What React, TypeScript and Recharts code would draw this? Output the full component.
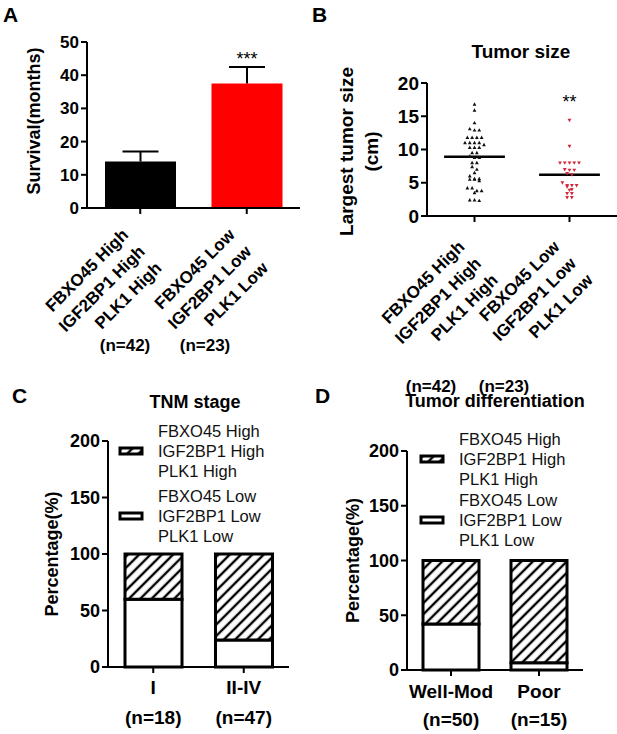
import React from "react";
import {
  BarChart,
  Bar,
  XAxis,
  YAxis,
  Cell,
  LabelList,
  ScatterChart,
  Scatter,
  ReferenceLine,
  ReferenceDot,
  Legend,
} from "recharts";

const FONT = "'Liberation Sans', Arial, Helvetica, sans-serif";
const INK = "#000";

// ---- data ----
const groupLabels = [
  ["FBXO45 High", "IGF2BP1 High", "PLK1 High"],
  ["FBXO45 Low", "IGF2BP1 Low", "PLK1 Low"],
];
const groupCounts = ["(n=42)", "(n=23)"];

// A: survival
const survivalTicks = [0, 10, 20, 30, 40, 50];
const survivalMean = [14, 37.5];
const survivalSem = [3, 5];
const survivalColors = ["#000000", "#ff0000"];
const survivalStars = ["", "***"];

// B: tumor size
const sizeTicks = [0, 5, 10, 15, 20];
const sizeHigh = [
  16.8, 15.9, 14.0, 12.9, 13.1, 12.9, 11.8, 11.8, 11.8, 11.8, 11.0, 11.0, 11.0,
  11.0, 10.7, 10.3, 10.3, 10.3, 9.5, 9.5, 9.0, 8.8, 8.8, 8.0, 8.0, 7.4, 7.0,
  6.5, 6.0, 5.6, 5.6, 5.5, 5.5, 5.3, 4.2, 4.2, 3.8, 3.8, 3.5, 2.4, 2.3, 2.4,
];
const sizeLow = [
  14.4, 10.5, 8.0, 8.0, 8.0, 8.0, 8.0, 7.0, 6.9, 6.9, 6.4, 6.2, 5.0, 4.6, 4.6,
  4.6, 4.4, 4.0, 3.9, 3.4, 3.4, 2.8, 2.8,
];
const sizeMeans = [8.9, 6.2];
const sizeStars = ["", "**"];

// C / D: stacked percentages
const pctTicks = [0, 50, 100, 150, 200];
const stageNames = ["I", "II-IV"];
const stageCounts = ["(n=18)", "(n=47)"];
const stageLow = [60, 24];
const stageHigh = [40, 76];

const diffNames = ["Well-Mod", "Poor"];
const diffCounts = ["(n=50)", "(n=15)"];
const diffLow = [42, 6.7];
const diffHigh = [58, 93.3];

// ---- derived tables ----
const survivalData = survivalMean.map((m, i) => ({
  group: i + 1,
  mean: m,
  sem: survivalSem[i],
  stars: survivalStars[i],
}));

// spread points that share (nearly) the same value side by side
function swarm(values: number[], center: number) {
  const sorted = [...values].sort((a, b) => b - a);
  const rows: number[][] = [];
  sorted.forEach((v) => {
    const row = rows[rows.length - 1];
    if (row && row[0] - v < 0.45) row.push(v);
    else rows.push([v]);
  });
  const pts: { x: number; y: number }[] = [];
  rows.forEach((row) =>
    row.forEach((v, k) => pts.push({ x: center + (k - (row.length - 1) / 2) * 0.05, y: v }))
  );
  return pts;
}
const highPts = swarm(sizeHigh, 1);
const lowPts = swarm(sizeLow, 2);

const stageData = stageNames.map((n, i) => ({ name: n, low: stageLow[i], high: stageHigh[i] }));
const diffData = diffNames.map((n, i) => ({ name: n, low: diffLow[i], high: diffHigh[i] }));

// ---- shared pieces ----
const axisLine = { stroke: INK, strokeWidth: 2 };
const tickLine = { stroke: INK, strokeWidth: 2 };
const numTick = (size: number) => ({
  fill: INK,
  fontSize: size,
  fontWeight: "bold",
  fontFamily: FONT,
});

function makeSlantTick(dx: number, dy: number) {
  return function SlantTick(props: any) {
    const { x, y, payload } = props;
    const rows = groupLabels[Number(payload.value) - 1] || [];
    return (
      <g transform={`translate(${x + dx},${y + dy}) rotate(-45)`}>
        <text textAnchor="end" fill={INK} fontSize={17} fontWeight="bold" fontFamily={FONT}>
          {rows.map((r, i) => (
            <tspan key={i} x={0} y={i * 23.5}>
              {r}
            </tspan>
          ))}
        </text>
      </g>
    );
  };
}

function makeCountTick(names: string[], counts: string[], d1: number, d2: number) {
  return function CountTick(props: any) {
    const { x, y, payload } = props;
    const i = names.indexOf(payload.value);
    const style = { fill: INK, fontSize: 19, fontWeight: "bold" as const, fontFamily: FONT };
    return (
      <g>
        <text x={x} y={y + d1} textAnchor="middle" {...style}>
          {payload.value}
        </text>
        <text x={x} y={y + d2} textAnchor="middle" {...style}>
          {counts[i]}
        </text>
      </g>
    );
  };
}

function AxisTitle(props: any) {
  const { viewBox, lines, xs, fontSize, dy = 0 } = props;
  const cy = viewBox ? viewBox.y + viewBox.height / 2 + dy : 0;
  return (
    <g>
      {lines.map((l: string, i: number) => (
        <text
          key={i}
          x={xs[i]}
          y={cy}
          transform={`rotate(-90 ${xs[i]} ${cy})`}
          textAnchor="middle"
          dominantBaseline="central"
          fill={INK}
          fontSize={fontSize}
          fontWeight="bold"
          fontFamily={FONT}
        >
          {l}
        </text>
      ))}
    </g>
  );
}

function Whisker(props: any) {
  const { x, y, width, height } = props;
  const cx = x + width / 2;
  const cap = 36;
  return (
    <g>
      <line x1={cx} x2={cx} y1={y + height} y2={y} stroke={INK} strokeWidth={2} />
      <line x1={cx - cap / 2} x2={cx + cap / 2} y1={y} y2={y} stroke={INK} strokeWidth={2} />
    </g>
  );
}

const triUp = (p: any) => (
  <path d={`M${p.cx},${p.cy - 2} L${p.cx + 1.9},${p.cy + 1.4} L${p.cx - 1.9},${p.cy + 1.4} Z`} fill="#111" />
);
const triDown = (p: any) => (
  <path d={`M${p.cx},${p.cy + 2} L${p.cx + 1.9},${p.cy - 1.4} L${p.cx - 1.9},${p.cy - 1.4} Z`} fill="#d3263c" />
);

function makeLegend(hatchId: string, itemGap: number) {
  return function LegendBox(props: any) {
    const items = [...(props.payload || [])].sort((a: any, b: any) =>
      a.dataKey === "high" ? -1 : b.dataKey === "high" ? 1 : 0
    );
    return (
      <svg width={190} height={130} style={{ display: "block", overflow: "visible" }}>
        {items.map((it: any, k: number) => {
          const lines = String(it.value).split("\n");
          const top = k * itemGap;
          return (
            <g key={k}>
              <rect
                x={10}
                y={top + 28}
                width={22}
                height={6}
                fill={it.dataKey === "high" ? `url(#${hatchId})` : "#fff"}
                stroke={INK}
                strokeWidth={3}
              />
              <text fill="#111" fontSize={16.5} fontFamily={FONT}>
                {lines.map((l, j) => (
                  <tspan key={j} x={48} y={top + 17 + j * 20}>
                    {l}
                  </tspan>
                ))}
              </text>
            </g>
          );
        })}
      </svg>
    );
  };
}

function hatchDefs(id: string) {
  return (
    <defs>
      <pattern id={id} patternUnits="userSpaceOnUse" width={8} height={8} patternTransform="rotate(45)">
        <rect width={8} height={8} fill="#fff" />
        <line x1={4} y1={0} x2={4} y2={8} stroke={INK} strokeWidth={2.4} />
      </pattern>
    </defs>
  );
}

function StackPanel(props: any) {
  const { data, names, counts, hatchId, margin, barSize, d1, d2, titleX, legendPos, itemGap, width } = props;
  return (
    <BarChart width={width} height={374} data={data} margin={margin}>
      {hatchDefs(hatchId)}
      <XAxis
        dataKey="name"
        height={60}
        interval={0}
        axisLine={axisLine}
        tickLine={tickLine}
        tick={makeCountTick(names, counts, d1, d2)}
      />
      <YAxis
        domain={[0, 200]}
        ticks={pctTicks}
        width={60}
        interval={0}
        axisLine={axisLine}
        tickLine={tickLine}
        tick={numTick(18)}
        label={<AxisTitle lines={["Percentage(%)"]} xs={[titleX]} fontSize={18} />}
      />
      <Legend
        layout="horizontal"
        verticalAlign="middle"
        align="center"
        wrapperStyle={{ left: legendPos[0], top: legendPos[1], width: 190 }}
        content={makeLegend(hatchId, itemGap)}
      />
      <Bar
        dataKey="low"
        stackId="s"
        name={groupLabels[1].join("\n")}
        fill="#fff"
        stroke={INK}
        strokeWidth={3}
        barSize={barSize}
        isAnimationActive={false}
      />
      <Bar
        dataKey="high"
        stackId="s"
        name={groupLabels[0].join("\n")}
        fill={`url(#${hatchId})`}
        stroke={INK}
        strokeWidth={3}
        barSize={barSize}
        isAnimationActive={false}
      />
    </BarChart>
  );
}

const textStyle = { fill: INK, fontFamily: FONT, fontWeight: "bold" as const };

export default function App() {
  return (
    <div style={{ position: "absolute", left: 0, top: 0, width: 617, height: 734, background: "#fff" }}>
      {/* A */}
      <div style={{ position: "absolute", left: 0, top: 0 }}>
        <BarChart width={310} height={360} data={survivalData} margin={{ top: 42, right: 10, left: 27, bottom: 12 }}>
          <XAxis
            dataKey="group"
            height={140}
            interval={0}
            axisLine={axisLine}
            tickLine={tickLine}
            tick={makeSlantTick(-11, 20)}
          />
          <YAxis
            domain={[0, 50]}
            ticks={survivalTicks}
            width={60}
            interval={0}
            axisLine={axisLine}
            tickLine={tickLine}
            tick={numTick(17)}
            label={<AxisTitle lines={["Survival(months)"]} xs={[34]} fontSize={18} dy={-4} />}
          />
          <Bar dataKey="mean" stackId="a" barSize={71} isAnimationActive={false}>
            {survivalData.map((d, i) => (
              <Cell key={i} fill={survivalColors[i]} />
            ))}
          </Bar>
          <Bar dataKey="sem" stackId="a" barSize={71} shape={Whisker} isAnimationActive={false}>
            <LabelList dataKey="stars" position="top" offset={2} fill={INK} fontSize={18} fontFamily={FONT} />
          </Bar>
        </BarChart>
      </div>

      {/* B */}
      <div style={{ position: "absolute", left: 310, top: 0 }}>
        <ScatterChart width={307} height={400} margin={{ top: 83, right: 0, left: 57, bottom: 0 }}>
          <XAxis
            type="number"
            dataKey="x"
            domain={[0.5, 2.5]}
            ticks={[1, 2]}
            height={184}
            interval={0}
            axisLine={axisLine}
            tickLine={tickLine}
            tick={makeSlantTick(-9, 24)}
          />
          <YAxis
            type="number"
            dataKey="y"
            domain={[0, 20]}
            ticks={sizeTicks}
            width={60}
            interval={0}
            axisLine={axisLine}
            tickLine={tickLine}
            tick={numTick(19)}
            label={<AxisTitle lines={["Largest tumor size", "(cm)"]} xs={[36, 61]} fontSize={19} dy={2} />}
          />
          <Scatter data={highPts} shape={triUp} isAnimationActive={false} />
          <Scatter data={lowPts} shape={triDown} isAnimationActive={false} />
          {sizeMeans.map((m, i) => (
            <ReferenceLine
              key={i}
              segment={[
                { x: i + 1 - 0.32, y: m },
                { x: i + 1 + 0.32, y: m },
              ]}
              stroke={INK}
              strokeWidth={2.5}
            />
          ))}
          <ReferenceDot
            x={2}
            y={17.2}
            r={0}
            fill="none"
            stroke="none"
            label={{ value: sizeStars[1], position: "center", fill: INK, fontSize: 18, fontFamily: FONT }}
          />
        </ScatterChart>
      </div>

      {/* C */}
      <div style={{ position: "absolute", left: 0, top: 360 }}>
        <StackPanel
          width={310}
          data={stageData}
          names={stageNames}
          counts={stageCounts}
          hatchId="hatchC"
          margin={{ top: 81, right: 21, left: 48, bottom: 7 }}
          barSize={57}
          d1={19}
          d2={49}
          titleX={52}
          legendPos={[110, 60]}
          itemGap={65}
        />
      </div>

      {/* D */}
      <div style={{ position: "absolute", left: 310, top: 360 }}>
        <StackPanel
          width={307}
          data={diffData}
          names={diffNames}
          counts={diffCounts}
          hatchId="hatchD"
          margin={{ top: 91, right: 34, left: 37, bottom: 4 }}
          barSize={56}
          d1={20}
          d2={48}
          titleX={43}
          legendPos={[101, 68]}
          itemGap={61}
        />
      </div>

      {/* panel letters, titles, group sizes */}
      <svg width={617} height={734} style={{ position: "absolute", left: 0, top: 0, pointerEvents: "none" }}>
        <text x={3} y={22} fontSize={21} {...textStyle}>A</text>
        <text x={312} y={22} fontSize={21} {...textStyle}>B</text>
        <text x={12} y={403} fontSize={21} {...textStyle}>C</text>
        <text x={315} y={403} fontSize={21} {...textStyle}>D</text>
        <text x={521} y={58} fontSize={19} textAnchor="middle" {...textStyle}>Tumor size</text>
        <text x={195} y={408} fontSize={18} textAnchor="middle" {...textStyle}>TNM stage</text>
        <text x={495} y={407} fontSize={18} textAnchor="middle" {...textStyle}>Tumor differentiation</text>
        {groupCounts.map((c, i) => (
          <text key={"a" + i} x={[125, 205][i]} y={351} fontSize={17} textAnchor="middle" {...textStyle}>
            {c}
          </text>
        ))}
        {groupCounts.map((c, i) => (
          <text key={"b" + i} x={[431, 504][i]} y={392} fontSize={17} textAnchor="middle" {...textStyle}>
            {c}
          </text>
        ))}
      </svg>
    </div>
  );
}
